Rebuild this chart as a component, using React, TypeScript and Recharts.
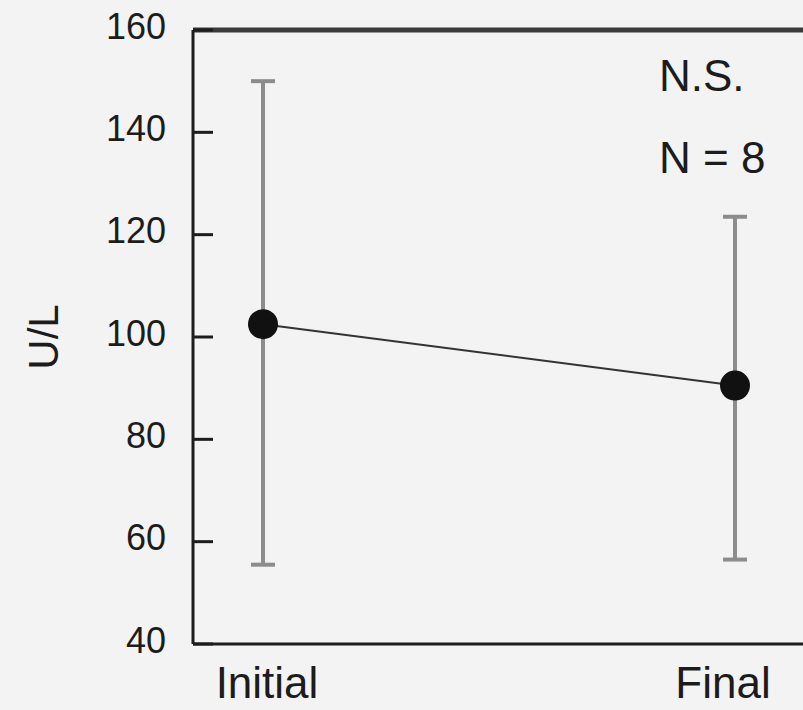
import React from 'react'
import { LineChart, Line, XAxis, YAxis, ErrorBar, ReferenceLine, Label, Customized } from 'recharts'

// enzyme activity, before vs after
const stages = ['Initial', 'Final']
const means = [102.5, 90.5]
const lowerBounds = [55.5, 56.5]
const upperBounds = [150, 123.5]
const yTicks = [40, 60, 80, 100, 120, 140, 160]
const notes = ['N.S.', 'N = 8']

const rows = stages.map((stage, i) => ({
  stage,
  mean: means[i],
  err: [means[i] - lowerBounds[i], upperBounds[i] - means[i]],
}))

const FONT = '"Liberation Sans", Arial, sans-serif'
const INK = '#1c1c1c'

// small nudges so the category names sit where they were typeset
const xLabelShift = [4, -12]

function YTick(props: any) {
  const { x, y, payload } = props
  return (
    <g>
      <line x1={x} x2={x + 20} y1={y} y2={y} stroke={INK} strokeWidth={3} />
      <text
        x={x - 27}
        y={y - 4}
        textAnchor="end"
        dominantBaseline="central"
        fontFamily={FONT}
        fontSize={36}
        fill={INK}
      >
        {payload.value}
      </text>
    </g>
  )
}

function XTick(props: any) {
  const { x, y, payload, index } = props
  return (
    <text
      x={x + (xLabelShift[index] ?? 0)}
      y={y + 54}
      textAnchor="middle"
      fontFamily={FONT}
      fontSize={44}
      fill={INK}
    >
      {payload.value}
    </text>
  )
}

function YTitle() {
  return (
    <text
      transform="translate(58, 337) rotate(-90)"
      textAnchor="middle"
      fontFamily={FONT}
      fontSize={42}
      fill={INK}
    >
      U/L
    </text>
  )
}

function Notes() {
  return (
    <g>
      {notes.map((n, i) => (
        <text key={n} x={659} y={91 + i * 82} fontFamily={FONT} fontSize={44} fill={INK}>
          {n}
        </text>
      ))}
    </g>
  )
}

export default function App() {
  return (
    <div
      style={{
        position: 'absolute',
        left: 0,
        top: 0,
        width: 803,
        height: 710,
        overflow: 'hidden',
        background: '#f3f3f3',
      }}
    >
      <LineChart width={830} height={710} data={rows} margin={{ top: 30, right: 0, bottom: 0, left: 0 }}>
        <XAxis
          dataKey="stage"
          height={66}
          padding={{ left: 70, right: 95 }}
          axisLine={{ stroke: INK, strokeWidth: 3 }}
          tickLine={false}
          tickSize={0}
          tickMargin={0}
          tick={<XTick />}
        />
        <YAxis
          type="number"
          domain={[40, 160]}
          ticks={yTicks}
          interval={0}
          width={193}
          axisLine={{ stroke: INK, strokeWidth: 3 }}
          tickLine={false}
          tickSize={0}
          tickMargin={0}
          tick={<YTick />}
        >
          <Label content={<YTitle />} />
        </YAxis>
        <ReferenceLine y={160} stroke="#3a3a3a" strokeWidth={5} />
        <Line
          dataKey="mean"
          stroke="#333"
          strokeWidth={2}
          dot={{ r: 15, fill: '#111', stroke: 'none' }}
          activeDot={false}
          isAnimationActive={false}
        >
          <ErrorBar dataKey="err" direction="y" width={12} stroke="#8c8c8c" strokeWidth={4} />
        </Line>
        <Customized component={Notes} />
      </LineChart>
    </div>
  )
}
